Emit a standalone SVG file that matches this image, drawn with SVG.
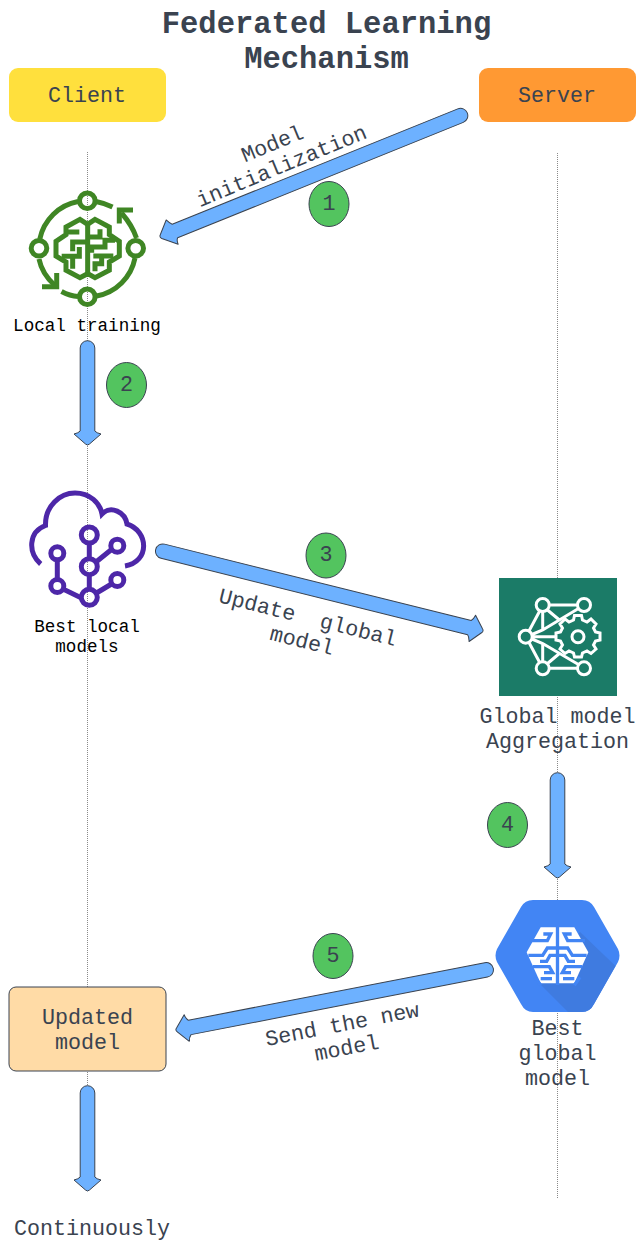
<svg xmlns="http://www.w3.org/2000/svg" width="636" height="1243" viewBox="0 0 636 1243">
<style>
text{font-family:"Liberation Mono","DejaVu Sans Mono",monospace;fill:#3a4350;text-anchor:middle}
.t{font-size:30.5px;font-weight:bold}
.l{font-size:21.7px}
.s{font-size:17.6px;fill:#000}
.a{fill:#6db1ff;stroke:#3a4350;stroke-width:1;stroke-linejoin:round}
.b{fill:#53c45f;stroke:#3a4350;stroke-width:1}
.g{fill:none;stroke:#3f8624;stroke-width:5}
.p{fill:none;stroke:#4d27a8;stroke-width:5}
.w{fill:none;stroke:#fff;stroke-width:3}
.life{stroke:#8a8a8a;stroke-width:1;stroke-dasharray:1 1}
.c{fill:none;stroke:#4285f4;stroke-width:10}
</style>
<g id="lifelines">
<line class="life" x1="87.5" y1="152" x2="87.5" y2="1085"/>
<line class="life" x1="557.5" y1="153" x2="557.5" y2="1199"/>
</g>
<g id="title">
<text class="t" x="326.500" y="33">Federated Learning</text>
<text class="t" x="326.500" y="68">Mechanism</text>
</g>
<g id="client"><rect x="9" y="68" width="157" height="54" rx="9" fill="#ffe03d"/><text class="l" x="87" y="102">Client</text></g>
<g id="server"><rect x="479" y="68" width="157" height="54" rx="9" fill="#ff9933"/><text class="l" x="557" y="102">Server</text></g>
<g id="connectors">
<path class="a" transform="translate(467 113) rotate(158)" d="M7,-7.300 H315 Q317,-9 317,-13.500 L330,-2 Q332,0 330,2 L319,13.500 Q317,9 315,7.300 H7 A7.300,7.300 0 0 1 7,-7.300Z"/>
<path class="a" transform="translate(87.500 341) rotate(90)" d="M7,-7.300 H90 Q92,-9 93,-13.500 L103,-2 Q105,0 103,2 L93,13.500 Q92,9 90,7.300 H7 A7.300,7.300 0 0 1 7,-7.300Z"/>
<path class="a" transform="translate(156 549.500) rotate(14)" d="M7,-7.300 H323 Q325,-9 326,-13.500 L336,-2 Q338,0 336,2 L326,13.500 Q325,9 323,7.300 H7 A7.300,7.300 0 0 1 7,-7.300Z"/>
<path class="a" transform="translate(557.500 773) rotate(90)" d="M7,-7.300 H91 Q93,-9 94,-13.500 L104,-2 Q106,0 104,2 L94,13.500 Q93,9 91,7.300 H7 A7.300,7.300 0 0 1 7,-7.300Z"/>
<path class="a" transform="translate(493 968.500) rotate(169)" d="M7,-7.300 H309 Q311,-9 312,-13.500 L322,-2 Q324,0 322,2 L312,13.500 Q311,9 309,7.300 H7 A7.300,7.300 0 0 1 7,-7.300Z"/>
<path class="a" transform="translate(87.500 1086) rotate(90)" d="M7,-7.300 H91 Q93,-9 94,-13.500 L104,-2 Q106,0 104,2 L94,13.500 Q93,9 91,7.300 H7 A7.300,7.300 0 0 1 7,-7.300Z"/>
</g>
<g id="label-1"><g transform="translate(278 157.500) rotate(-22.500)"><text class="l" x="0" y="-8">Model</text><text class="l" x="0" y="16">initialization</text></g></g>
<g id="label-3"><g transform="translate(305.500 627) rotate(14)"><text class="l" x="0" y="-3" xml:space="preserve">Update  global</text><text class="l" x="0" y="21">model</text></g></g>
<g id="label-5"><g transform="translate(344 1034) rotate(-11)"><text class="l" x="0" y="-3">Send the new</text><text class="l" x="0" y="21">model</text></g></g>
<g id="badge-1"><ellipse class="b" cx="329" cy="204" rx="20" ry="22.5"/><text class="l" x="329" y="210">1</text></g>
<g id="badge-2"><ellipse class="b" cx="126.500" cy="385" rx="20" ry="22.5"/><text class="l" x="126.500" y="391">2</text></g>
<g id="badge-3"><ellipse class="b" cx="326" cy="555.500" rx="20" ry="22.5"/><text class="l" x="326" y="561">3</text></g>
<g id="badge-4"><ellipse class="b" cx="507.500" cy="825" rx="20" ry="22.5"/><text class="l" x="507.500" y="831">4</text></g>
<g id="badge-5"><ellipse class="b" cx="333" cy="956" rx="20" ry="22.5"/><text class="l" x="333" y="962">5</text></g>
<g id="local-training">
<g class="g">
<circle cx="87.300" cy="200.700" r="7.800"/><circle cx="87.300" cy="296.700" r="7.800"/><circle cx="39" cy="248.300" r="7.800"/><circle cx="135.700" cy="248.300" r="7.800"/>
<path d="M96,201.500 Q104,203 112.500,207"/>
<path d="M78,201.500 A48,48 0 0 0 39.800,239"/>
<path d="M136.500,238 Q132,225 121.500,213"/>
<path d="M96.500,296 A48,48 0 0 0 135,258"/>
<path d="M78,296.500 Q70,296 61.500,291.500"/>
<path d="M39,259 Q42,274 55,285.500"/>
<path d="M119.300,223.500 V210 H133"/>
<path d="M56.700,273 V286.700 H42"/>
<g transform="translate(50 212) scale(.3333)" stroke-width="15" stroke-linejoin="miter">
<path d="M113,37 L90,22 L48,45 V68 L18,88 V132 L48,150 V175 L90,197 L113,185 L135,197 L178,175 V150 L208,132 V88 L178,68 V45 L135,22Z"/>
<path d="M113,37 V185 M48,60 H88 M68,118 V90 H113 M35,133 H88 V105 M68,133 V170 M113,75 H150 V52 M125,122 V105 H165 V85 H195 M130,132 H190 M155,132 V155 H135 V178"/>
</g>
</g>
<text class="s" x="87" y="331">Local training</text>
</g>
<g id="best-local-models">
<g class="p">
<path d="M40.700,564 C28,553 28,532 45.500,525.500 C45,506 60,493 75,493 C90,493 100,503 102,514 C111,505 125,512 127,524 C149,531 150,562 125,566"/>
<circle cx="89.300" cy="535" r="8"/><circle cx="89.300" cy="566.700" r="8"/><circle cx="89.300" cy="597.300" r="8"/>
<circle cx="117.300" cy="545.700" r="6.500"/><circle cx="117.300" cy="580" r="6.500"/><circle cx="57.300" cy="553.300" r="6.500"/><circle cx="57.300" cy="586" r="6.500"/>
<path d="M89.300,543 V558.700 M89.300,574.700 V589.300 M96,562 L111.500,549.500 M96.500,593 L111.500,584 M57.300,560 V579.500 M63,589 L81.500,598"/>
</g>
<text class="s" x="87" y="632">Best local</text>
<text class="s" x="87" y="652">models</text>
</g>
<g id="global-aggregation">
<rect x="499" y="578" width="118" height="118" fill="#1b7b67"/>
<g class="w">
<circle cx="542.700" cy="605" r="6.500"/><circle cx="584" cy="605" r="6.500"/><circle cx="525.700" cy="636.700" r="6.500"/><circle cx="542.700" cy="668.300" r="6.500"/><circle cx="584" cy="668.300" r="6.500"/>
<path d="M549,605 H577.500 M578.500,608.500 L542.700,630 L532,634.500 M539.700,611 L529,631 M542.700,611.500 V630 M532,636.700 H556 M529,642.500 L539.700,662.500 M542.700,643 V662 M532,639 L542.700,643.500 L578.500,664.500 M549,668.300 H577.500 M547.500,610 L560,620.500 M547.500,663.500 L560,653"/>
<circle cx="578" cy="636.700" r="6"/>
<path d="M574.500,618.500 H581.500 L582.500,623 L587,625 L591,622 L596,627 L593.500,631 L595.500,635 L600,636 V643 L595.500,644 L593.500,648 L596,652 L591,656.500 L587,654 L582.500,656 L581.500,660 H574.500 L573.500,656 L569,654 L565,656.500 L560,652 L562.500,648 L560.500,644 L556,643 V636 L560.500,635 L562.500,631 L560,627 L565,622 L569,625 L573.500,623Z" transform="translate(0 -3)"/>
</g>
<text class="l" x="557.500" y="723">Global model</text>
<text class="l" x="557.500" y="748">Aggregation</text>
</g>
<g id="best-global-model">
<path d="M533,900 H582 Q590,900 594,907 L618,949 Q621,955.500 618,962 L594,1004 Q590,1012 582,1012 H533 Q525,1012 521,1004 L497,962 Q494,955.500 497,949 L521,907 Q525,900 533,900Z" fill="#4285f4"/>
<path d="M580,932 L615.500,966 L594,1004 Q590,1012 582,1012 H568 L540,984Z" fill="#3f7be0"/>
<g transform="translate(520 920) scale(.3333)">
<path d="M62,22 H163 L205,97 L163,190 H62 L20,97Z" fill="#fff"/>
<g class="c">
<path d="M112.500,15 V195"/>
<path d="M30,62 H82 L92,42 H70"/>
<path d="M112.500,84 H82 L68,106 H25"/>
<path d="M112.500,106 H90 L80,124 H60"/>
<path d="M38,140 H88 L98,158 H72"/>
<path d="M62,176 H96"/>
<path d="M45,172 L62,196"/>
</g>
<g class="c" transform="translate(225 0) scale(-1 1)">
<path d="M30,62 H82 L92,42 H70"/>
<path d="M112.500,84 H82 L68,106 H25"/>
<path d="M112.500,106 H90 L80,124 H60"/>
<path d="M38,140 H88 L98,158 H72"/>
<path d="M62,176 H96"/>
<path d="M45,172 L62,196"/>
</g>
</g>
<text class="l" x="557.500" y="1035">Best</text>
<text class="l" x="557.500" y="1060">global</text>
<text class="l" x="557.500" y="1085">model</text>
</g>
<g id="updated-model"><rect x="9" y="987" width="157" height="84" rx="7" fill="#ffdba6" stroke="#3a4350"/><text class="l" x="87.500" y="1024">Updated</text><text class="l" x="87.500" y="1049">model</text></g>
<g id="continuously"><text class="l" x="92" y="1235">Continuously</text></g>
</svg>
